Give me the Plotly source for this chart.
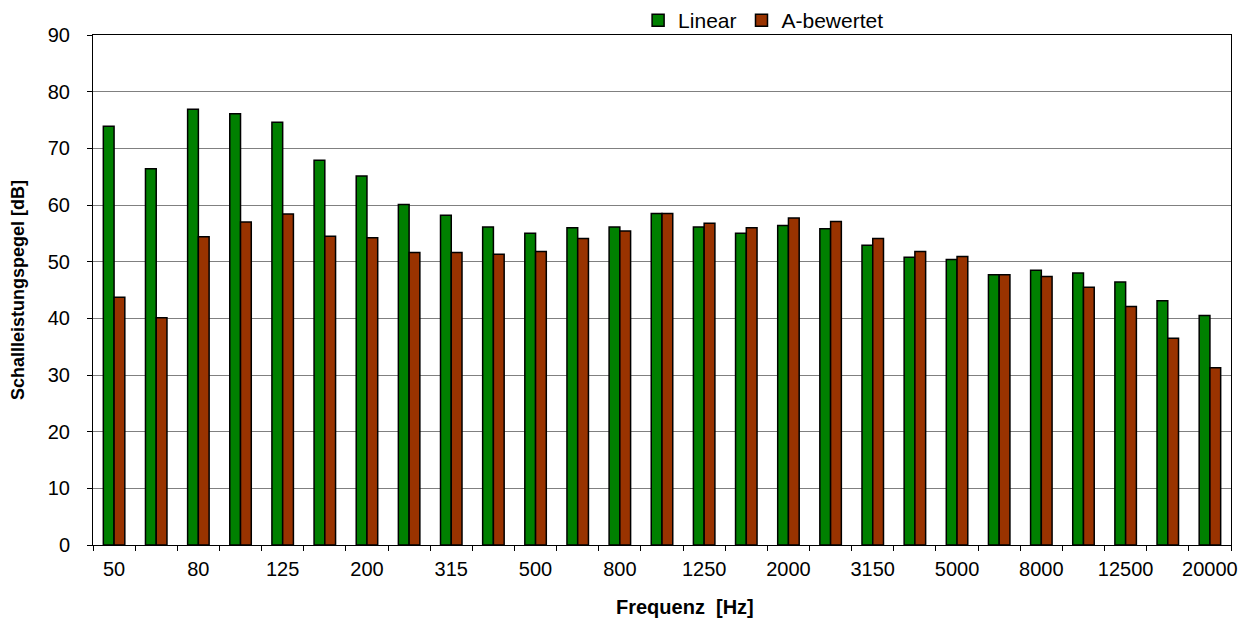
import plotly.graph_objects as go

# Third-octave band centre frequencies (Hz)
frequencies = ["50", "63", "80", "100", "125", "160", "200", "250", "315", "400",
               "500", "630", "800", "1000", "1250", "1600", "2000", "2500", "3150",
               "4000", "5000", "6300", "8000", "10000", "12500", "16000", "20000"]

# Sound power level, linear (dB)
linear = [73.9, 66.4, 76.9, 76.1, 74.6, 67.9, 65.1, 60.1, 58.2, 56.1,
          55.0, 56.0, 56.1, 58.5, 56.1, 55.0, 56.4, 55.8, 52.9,
          50.8, 50.4, 47.7, 48.5, 48.0, 46.4, 43.1, 40.5]

# Sound power level, A-weighted (dB)
a_weighted = [43.7, 40.1, 54.4, 57.0, 58.4, 54.5, 54.2, 51.6, 51.6, 51.3,
              51.8, 54.1, 55.4, 58.5, 56.8, 56.0, 57.7, 57.1, 54.1,
              51.8, 50.9, 47.7, 47.4, 45.5, 42.1, 36.5, 31.3]

# Tick labels shown on the x axis
shown_labels = ["50", "80", "125", "200", "315", "500", "800", "1250",
                "2000", "3150", "5000", "8000", "12500", "20000"]

tick_text = [f if f in shown_labels else "" for f in frequencies]

FONT = "Liberation Sans, Arial, sans-serif"

fig = go.Figure()
fig.add_trace(go.Bar(
    x=frequencies, y=linear, name="Linear",
    marker=dict(color="#008000", line=dict(color="black", width=1.5)),
))
fig.add_trace(go.Bar(
    x=frequencies, y=a_weighted, name="A-bewertet",
    marker=dict(color="#993300", line=dict(color="black", width=1.5)),
))

fig.update_layout(
    width=1239, height=610,
    margin=dict(l=85, r=16, t=27, b=73, autoexpand=False),
    paper_bgcolor="white", plot_bgcolor="white",
    font=dict(family=FONT, size=20, color="black"),
    barmode="group", bargap=0.49, bargroupgap=0,
    showlegend=True,
    legend=dict(orientation="h", x=0.479, xanchor="left", y=1.0284, yanchor="middle",
                font=dict(size=21), bgcolor="rgba(0,0,0,0)", itemwidth=30,
                borderwidth=0, traceorder="normal"),
    annotations=[dict(text="<b>Frequenz\u00a0\u00a0[Hz]</b>", xref="paper", yref="paper",
                      x=0.52, y=-0.122, xanchor="center", yanchor="middle",
                      showarrow=False, font=dict(size=20, family=FONT))],
)

fig.update_xaxes(
    type="category",
    tickmode="array", tickvals=frequencies, ticktext=tick_text, tickangle=0,
    tickson="boundaries", ticks="outside", ticklen=5, tickcolor="black", tickwidth=1,
    showline=True, linecolor="black", linewidth=1, mirror=True,
    showgrid=False, automargin=False, ticklabelstandoff=6,
)
fig.update_yaxes(
    range=[0, 90], dtick=10, tick0=0,
    ticks="outside", ticklen=5, tickcolor="black", tickwidth=1,
    showline=True, linecolor="black", linewidth=1, mirror=True,
    showgrid=True, gridcolor="#808080", gridwidth=1,
    zeroline=False, automargin=False, ticklabelstandoff=13,
    title=dict(text="Schallleistungspegel [dB]", font=dict(size=18, family=FONT, weight="bold"), standoff=19),
)

fig.write_html("out.html")
